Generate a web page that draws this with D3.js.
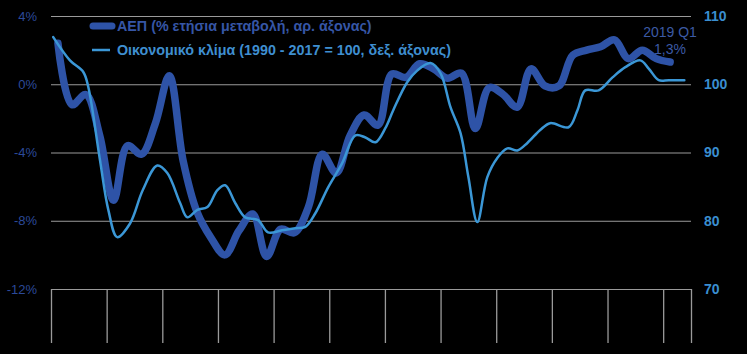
<!DOCTYPE html>
<html>
<head>
<meta charset="utf-8">
<script src="https://cdn.jsdelivr.net/npm/d3@7"></script>
<style>
  html, body { margin: 0; padding: 0; background: #000; }
  svg text { font-family: "Liberation Sans", Arial, sans-serif; }
</style>
</head>
<body>
<div id="chart"></div>
<script>
// quarterly GDP, % yoy, 2008 Q1 .. 2019 Q1
var gdpValues = [2.4, -1.2, -0.6, -3.0, -6.8, -3.6, -4.1, -2.3,
                 0.5, -4.5, -7.5, -9.0, -10.0, -8.6, -7.6, -10.1,
                 -8.5, -8.7, -7.2, -4.1, -5.2, -3.0, -1.8, -2.4,
                 0.6, 0.4, 1.2, 0.9, 0.35, 0.65, -2.6, -0.2,
                 -0.6, -1.35, 0.9, -0.1, -0.1, 1.7, 2.0, 2.2,
                 2.6, 1.5, 2.0, 1.5, 1.3];
var gdpDates = gdpValues.map(function(d, i) { return 2008 + (i + 0.5) / 4; });

// economic sentiment (1990-2017 = 100), read at these dates
var sentDates = [2008.04, 2008.34, 2008.58, 2008.67, 2008.88, 2009.03, 2009.19, 2009.42,
                 2009.65, 2009.91, 2010.09, 2010.32, 2010.45, 2010.63, 2010.81, 2010.99,
                 2011.13, 2011.31, 2011.49, 2011.72, 2011.90, 2012.15, 2012.39, 2012.57,
                 2012.75, 2012.98, 2013.23, 2013.47, 2013.65, 2013.83, 2014.01, 2014.15,
                 2014.40, 2014.58, 2014.82, 2015.00, 2015.18, 2015.36, 2015.50, 2015.66,
                 2015.84, 2016.02, 2016.20, 2016.38, 2016.56, 2016.79, 2016.97, 2017.30,
                 2017.46, 2017.60, 2017.84, 2018.09, 2018.32, 2018.59, 2018.74, 2018.92,
                 2019.10, 2019.38];
var sentValues = [106.9, 103.5, 101.8, 99.6, 88.9, 81.6, 77.6, 79.6,
                  84.5, 88.1, 87.0, 82.6, 80.5, 81.6, 82.0, 84.5,
                  85.2, 82.6, 80.5, 80.1, 78.3, 78.6, 78.9, 79.1,
                  81.1, 84.9, 88.4, 92.5, 92.2, 91.5, 93.6, 96.2,
                  100.3, 102.0, 103.1, 101.6, 96.6, 92.8, 86.4, 79.8,
                  86.4, 89.2, 90.6, 90.3, 91.4, 93.3, 94.3, 93.7,
                  96.2, 99.1, 99.1, 101.0, 102.5, 103.5, 102.3, 100.6,
                  100.6, 100.6];

var leftTicks = [-12, -8, -4, 0, 4];
var rightTicks = [70, 80, 90, 100, 110];
var yearTicks = [2008, 2009, 2010, 2011, 2012, 2013, 2014, 2015, 2016, 2017, 2018, 2019, 2019.5];

var legendLabels = ["ΑΕΠ (% ετήσια μεταβολή, αρ. άξονας)",
                    "Οικονομικό κλίμα (1990 - 2017 = 100, δεξ. άξονας)"];
var noteLines = ["2019 Q1", "1,3%"];

var width = 747, height = 354;
var darkBlue = "#2e53a7", lightBlue = "#3b97d6", gridCol = "#9a9a9a";

var svg = d3.select("#chart").append("svg")
  .attr("width", width).attr("height", height)
  .style("background", "#000");

var x = d3.scaleLinear().domain([2008, 2019.5]).range([51, 691]);
var yL = d3.scaleLinear().domain([-12, 4]).range([289, 16]);
var yR = d3.scaleLinear().domain([70, 110]).range([289, 16]);

// gridlines
var grid = svg.append("g").attr("transform", "translate(51,0)")
  .call(d3.axisLeft(yL).tickValues(leftTicks.slice(1)).tickSize(-640).tickFormat(""));
grid.select(".domain").remove();
grid.selectAll("line").attr("stroke", gridCol).attr("stroke-width", 1);

// bottom axis with long ticks
var xa = svg.append("g").attr("transform", "translate(0,289)")
  .call(d3.axisBottom(x).tickValues(yearTicks).tickSize(54).tickSizeOuter(0).tickFormat(""));
xa.select(".domain").attr("stroke", gridCol);
xa.selectAll("line").attr("stroke", gridCol).attr("stroke-width", 1.3);

// left labels
var la = svg.append("g").attr("transform", "translate(51,0)")
  .call(d3.axisLeft(yL).tickValues(leftTicks).tickSize(0).tickPadding(14)
    .tickFormat(function(d) { return d + "%"; }));
la.select(".domain").remove();
la.selectAll("text").attr("fill", "#2c4a9a").style("font-size", "13px")
  .style("font-family", "Liberation Sans, Arial, sans-serif");

// right labels
var ra = svg.append("g").attr("transform", "translate(691,0)")
  .call(d3.axisRight(yR).tickValues(rightTicks).tickSize(0).tickPadding(13));
ra.select(".domain").remove();
ra.selectAll("text").attr("fill", "#3a8ed0").style("font-size", "14px")
  .style("font-weight", "bold").style("font-family", "Liberation Sans, Arial, sans-serif");

// lines
var gdpLine = d3.line().curve(d3.curveCatmullRom)
  .x(function(d, i) { return x(gdpDates[i]); })
  .y(function(d) { return yL(d); });
svg.append("path").datum(gdpValues)
  .attr("d", gdpLine).attr("fill", "none")
  .attr("stroke", darkBlue).attr("stroke-width", 7.5)
  .attr("stroke-linejoin", "round").attr("stroke-linecap", "round");

var sentLine = d3.line().curve(d3.curveCatmullRom)
  .x(function(d, i) { return x(sentDates[i]); })
  .y(function(d) { return yR(d); });
svg.append("path").datum(sentValues)
  .attr("d", sentLine).attr("fill", "none")
  .attr("stroke", lightBlue).attr("stroke-width", 2.5)
  .attr("stroke-linejoin", "round").attr("stroke-linecap", "round");

// legend
var lg = svg.append("g");
lg.append("line").attr("x1", 93).attr("x2", 112).attr("y1", 26).attr("y2", 26)
  .attr("stroke", darkBlue).attr("stroke-width", 7).attr("stroke-linecap", "round");
lg.append("line").attr("x1", 92).attr("x2", 110).attr("y1", 50).attr("y2", 50)
  .attr("stroke", lightBlue).attr("stroke-width", 2.5);
lg.selectAll("text").data(legendLabels).enter().append("text")
  .attr("x", 117).attr("y", function(d, i) { return 26 + i * 24; })
  .attr("dy", "0.35em")
  .attr("fill", function(d, i) { return i ? "#3f8fd0" : "#3656a6"; })
  .style("font-size", "14.3px").style("font-weight", "bold")
  .text(function(d) { return d; });

// note
svg.selectAll(".note").data(noteLines).enter().append("text")
  .attr("class", "note")
  .attr("x", 670).attr("y", function(d, i) { return 32 + i * 17; })
  .attr("dy", "0.35em").attr("text-anchor", "middle")
  .attr("fill", "#3c5aa5").style("font-size", "14px")
  .text(function(d) { return d; });
</script>
</body>
</html>
